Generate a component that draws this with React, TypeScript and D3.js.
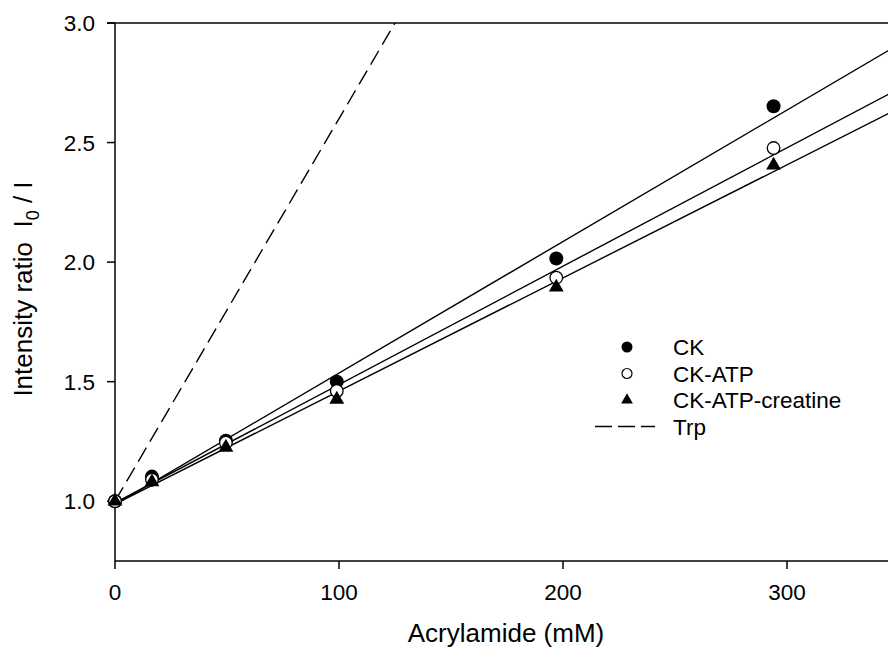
import React, { useRef, useEffect } from 'react';
import * as d3 from 'd3';

// acrylamide concentration (mM) of the measured points
const acrylamide = [0, 16.5, 49.5, 99, 197, 294];

const ckValues = [1.0, 1.103, 1.253, 1.5, 2.015, 2.652];
const ckAtpValues = [1.0, 1.09, 1.245, 1.461, 1.935, 2.477];
const ckAtpCreatineValues = [1.0, 1.08, 1.225, 1.426, 1.895, 2.405];

// fitted Stern-Volmer lines (slope per mM, intercept)
const seriesNames = ['CK', 'CK-ATP', 'CK-ATP-creatine', 'Trp'];
const fitSlopes = [0.0055, 0.00495, 0.00473, 0.016];
const fitIntercepts = [0.986, 0.993, 0.988, 1.0];

const xTicks = [0, 100, 200, 300];
const yTicks = [1.0, 1.5, 2.0, 2.5, 3.0];

const width = 888;
const height = 650;
const font = '"Liberation Sans", Arial, sans-serif';

const App = () => {
    const svg = useRef(null);

    useEffect(() => {
        const left = 115, top = 23, bottom = 561;

        const xScale = d3.scaleLinear().domain([0, 350]).range([left, left + 784]);
        const yScale = d3.scaleLinear().domain([0.75, 3.0]).range([bottom, top]);

        const chart = d3.select(svg.current);
        chart.selectAll('*').remove();

        chart.append('defs').append('clipPath').attr('id', 'plot')
            .append('rect')
            .attr('x', left).attr('y', top)
            .attr('width', 800).attr('height', bottom - top);

        // frame: top line, left axis, bottom axis
        chart.append('line')
            .attr('x1', left - 8).attr('x2', width)
            .attr('y1', top).attr('y2', top)
            .attr('stroke', '#000').attr('stroke-width', 1.5);

        chart.append('line')
            .attr('x1', left).attr('x2', left)
            .attr('y1', top).attr('y2', bottom)
            .attr('stroke', '#000').attr('stroke-width', 1.5);

        chart.append('line')
            .attr('x1', left).attr('x2', width)
            .attr('y1', bottom).attr('y2', bottom)
            .attr('stroke', '#000').attr('stroke-width', 1.5);

        // y ticks
        const yAxis = chart.append('g');
        yTicks.forEach(t => {
            yAxis.append('line')
                .attr('x1', left - 8).attr('x2', left)
                .attr('y1', yScale(t)).attr('y2', yScale(t))
                .attr('stroke', '#000').attr('stroke-width', 1.5);
            yAxis.append('text')
                .attr('x', 95).attr('y', yScale(t))
                .attr('dy', '0.36em')
                .attr('text-anchor', 'end')
                .attr('font-family', font).attr('font-size', 22.5)
                .text(d3.format('.1f')(t));
        });

        // x ticks
        const xAxis = chart.append('g');
        xTicks.forEach(t => {
            xAxis.append('line')
                .attr('x1', xScale(t)).attr('x2', xScale(t))
                .attr('y1', bottom).attr('y2', bottom + 8)
                .attr('stroke', '#000').attr('stroke-width', 1.5);
            xAxis.append('text')
                .attr('x', xScale(t)).attr('y', 600)
                .attr('text-anchor', 'middle')
                .attr('font-family', font).attr('font-size', 22.5)
                .text(t);
        });

        // axis titles
        chart.append('text')
            .attr('x', 506).attr('y', 642)
            .attr('text-anchor', 'middle')
            .attr('font-family', font).attr('font-size', 26)
            .text('Acrylamide (mM)');

        const yTitle = chart.append('text')
            .attr('transform', 'translate(32, 289) rotate(-90)')
            .attr('text-anchor', 'middle')
            .attr('font-family', font).attr('font-size', 26)
            .attr('xml:space', 'preserve');
        yTitle.append('tspan').text('Intensity ratio  I');
        yTitle.append('tspan').attr('font-size', 18).attr('dy', 7).text('0');
        yTitle.append('tspan').attr('dy', -7).text(' / I');

        // fitted lines
        const lineGroup = chart.append('g').attr('clip-path', 'url(#plot)');
        const line = d3.line<number>()
            .x(d => xScale(d[0]))
            .y(d => yScale(d[1]));

        seriesNames.forEach((name, i) => {
            const ends = [0, 350].map(x => [x, fitIntercepts[i] + fitSlopes[i] * x]);
            lineGroup.append('path')
                .datum(ends)
                .attr('d', line)
                .attr('fill', 'none')
                .attr('stroke', '#000')
                .attr('stroke-width', 1.4)
                .attr('stroke-dasharray', name === 'Trp' ? '16,7' : null);
        });

        // points
        const points = chart.append('g');
        points.selectAll('.ck')
            .data(acrylamide)
            .join('circle')
            .attr('cx', d => xScale(d))
            .attr('cy', (d, i) => yScale(ckValues[i]))
            .attr('r', 7)
            .attr('fill', '#000');

        points.selectAll('.atp')
            .data(acrylamide)
            .join('circle')
            .attr('cx', d => xScale(d))
            .attr('cy', (d, i) => yScale(ckAtpValues[i]))
            .attr('r', 6.3)
            .attr('fill', '#fff')
            .attr('stroke', '#000')
            .attr('stroke-width', 1.3);

        const triangle = d3.symbol().type(d3.symbolTriangle).size(95);
        points.selectAll('.cre')
            .data(acrylamide)
            .join('path')
            .attr('d', triangle)
            .attr('transform', (d, i) => `translate(${xScale(d)}, ${yScale(ckAtpCreatineValues[i])})`)
            .attr('fill', '#000');

        // legend
        const legend = chart.append('g');
        const symX = 627, textX = 673;
        seriesNames.forEach((name, i) => {
            const y = 347 + i * 26.5;
            if (i === 0) {
                legend.append('circle').attr('cx', symX).attr('cy', y).attr('r', 5.5).attr('fill', '#000');
            } else if (i === 1) {
                legend.append('circle').attr('cx', symX).attr('cy', y).attr('r', 5)
                    .attr('fill', '#fff').attr('stroke', '#000').attr('stroke-width', 1.2);
            } else if (i === 2) {
                legend.append('path')
                    .attr('d', d3.symbol().type(d3.symbolTriangle).size(60))
                    .attr('transform', `translate(${symX}, ${y})`)
                    .attr('fill', '#000');
            } else {
                legend.append('line')
                    .attr('x1', 595).attr('x2', 655)
                    .attr('y1', y).attr('y2', y)
                    .attr('stroke', '#000').attr('stroke-width', 1.4)
                    .attr('stroke-dasharray', '17,6');
            }
            legend.append('text')
                .attr('x', textX).attr('y', y)
                .attr('dy', '0.36em')
                .attr('font-family', font).attr('font-size', 22.5)
                .text(name);
        });
    }, []);

    return (
        <div>
            <style>{'body { margin: 0; }'}</style>
            <svg width={width} height={height} ref={svg} style={{ display: 'block', background: '#fff' }}></svg>
        </div>
    );
};

export default App;
